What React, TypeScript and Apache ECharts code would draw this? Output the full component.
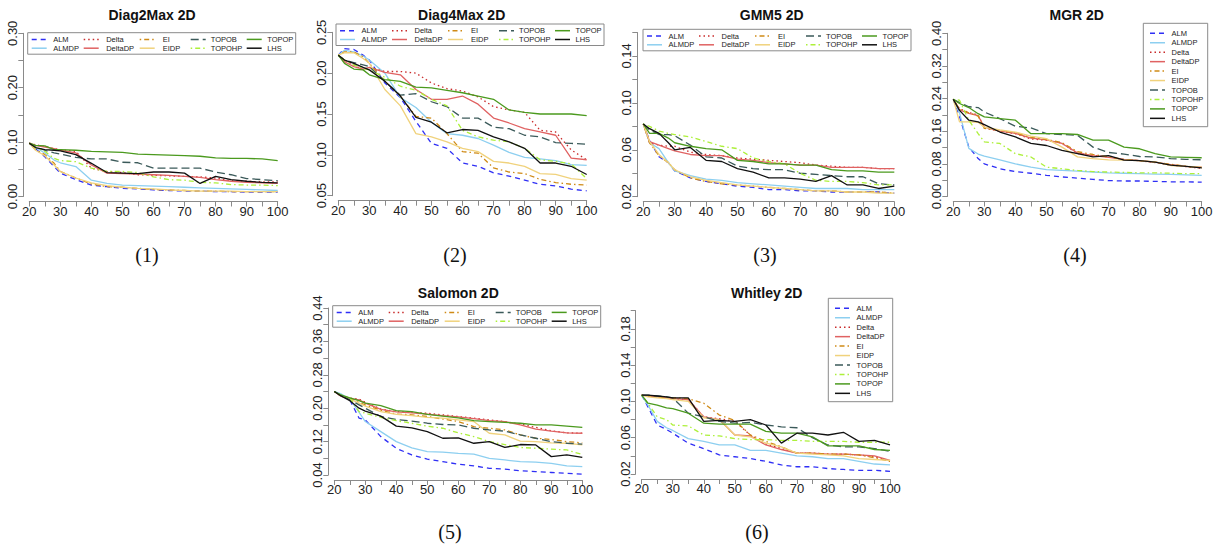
import { useEffect, useRef } from 'react';
import * as echarts from 'echarts';

// Methods compared in every panel (legend order, column-major in the wide legends)
const seriesNames = ['ALM', 'ALMDP', 'Delta', 'DeltaDP', 'EI', 'EIDP', 'TOPOB', 'TOPOHP', 'TOPOP', 'LHS'];

// Number of evaluations at which each curve is sampled
const evalCounts = [20, 22, 25, 28, 30, 35, 40, 45, 50, 55, 60, 65, 70, 75, 80, 85, 90, 95, 100];
const xTickLabels = [20, 30, 40, 50, 60, 70, 80, 90, 100];

// Diag2Max 2D — one row per method, in seriesNames order
const diag2maxValues = [
  [0.098, 0.088, 0.073, 0.055, 0.043, 0.031, 0.021, 0.018, 0.015, 0.014, 0.012, 0.011, 0.010, 0.010, 0.009, 0.009, 0.008, 0.008, 0.008],
  [0.098, 0.090, 0.080, 0.067, 0.062, 0.055, 0.030, 0.024, 0.021, 0.020, 0.019, 0.018, 0.017, 0.016, 0.015, 0.014, 0.013, 0.012, 0.011],
  [0.098, 0.095, 0.092, 0.088, 0.086, 0.083, 0.052, 0.046, 0.044, 0.040, 0.039, 0.038, 0.037, 0.036, 0.034, 0.029, 0.028, 0.027, 0.027],
  [0.098, 0.094, 0.091, 0.088, 0.085, 0.080, 0.058, 0.043, 0.042, 0.041, 0.040, 0.039, 0.037, 0.035, 0.031, 0.028, 0.026, 0.025, 0.024],
  [0.098, 0.086, 0.077, 0.061, 0.046, 0.034, 0.023, 0.018, 0.017, 0.015, 0.013, 0.012, 0.011, 0.010, 0.010, 0.009, 0.009, 0.009, 0.009],
  [0.098, 0.085, 0.075, 0.058, 0.046, 0.034, 0.025, 0.020, 0.017, 0.015, 0.014, 0.012, 0.011, 0.010, 0.010, 0.010, 0.009, 0.009, 0.009],
  [0.098, 0.091, 0.085, 0.080, 0.078, 0.072, 0.069, 0.069, 0.063, 0.062, 0.052, 0.052, 0.052, 0.052, 0.045, 0.040, 0.033, 0.031, 0.029],
  [0.098, 0.090, 0.083, 0.070, 0.066, 0.064, 0.052, 0.046, 0.046, 0.044, 0.036, 0.031, 0.030, 0.026, 0.025, 0.022, 0.021, 0.021, 0.020],
  [0.098, 0.094, 0.093, 0.086, 0.086, 0.085, 0.083, 0.082, 0.081, 0.078, 0.077, 0.076, 0.075, 0.074, 0.071, 0.070, 0.070, 0.069, 0.066],
  [0.098, 0.090, 0.086, 0.085, 0.084, 0.077, 0.061, 0.044, 0.043, 0.042, 0.045, 0.045, 0.043, 0.024, 0.037, 0.031, 0.028, 0.026, 0.025],
];

// Diag4Max 2D
const diag4maxValues = [
  [0.222, 0.230, 0.229, 0.222, 0.216, 0.188, 0.170, 0.141, 0.114, 0.108, 0.090, 0.086, 0.078, 0.074, 0.069, 0.064, 0.062, 0.058, 0.056],
  [0.222, 0.228, 0.226, 0.221, 0.216, 0.200, 0.170, 0.158, 0.140, 0.126, 0.124, 0.120, 0.112, 0.103, 0.097, 0.095, 0.093, 0.088, 0.087],
  [0.222, 0.216, 0.210, 0.204, 0.207, 0.202, 0.202, 0.200, 0.188, 0.181, 0.178, 0.171, 0.159, 0.155, 0.152, 0.130, 0.128, 0.106, 0.094],
  [0.222, 0.214, 0.208, 0.205, 0.207, 0.201, 0.198, 0.180, 0.168, 0.168, 0.172, 0.162, 0.145, 0.139, 0.132, 0.128, 0.124, 0.096, 0.094],
  [0.222, 0.226, 0.226, 0.220, 0.212, 0.190, 0.172, 0.147, 0.145, 0.126, 0.104, 0.102, 0.084, 0.079, 0.077, 0.070, 0.066, 0.064, 0.063],
  [0.222, 0.225, 0.225, 0.218, 0.212, 0.180, 0.160, 0.126, 0.122, 0.116, 0.108, 0.104, 0.092, 0.090, 0.086, 0.077, 0.076, 0.071, 0.069],
  [0.222, 0.216, 0.213, 0.210, 0.208, 0.190, 0.173, 0.175, 0.165, 0.159, 0.145, 0.145, 0.134, 0.132, 0.124, 0.122, 0.115, 0.114, 0.113],
  [0.222, 0.216, 0.210, 0.206, 0.204, 0.195, 0.184, 0.179, 0.168, 0.160, 0.130, 0.122, 0.118, 0.116, 0.108, 0.094, 0.092, 0.089, 0.071],
  [0.222, 0.212, 0.205, 0.204, 0.198, 0.192, 0.190, 0.183, 0.182, 0.179, 0.176, 0.172, 0.168, 0.155, 0.152, 0.150, 0.150, 0.150, 0.148],
  [0.222, 0.216, 0.212, 0.207, 0.204, 0.190, 0.172, 0.146, 0.140, 0.127, 0.131, 0.130, 0.122, 0.116, 0.108, 0.090, 0.090, 0.086, 0.076],
];

// GMM5 2D
const gmm5Values = [
  [0.082, 0.068, 0.054, 0.049, 0.042, 0.036, 0.033, 0.031, 0.029, 0.028, 0.026, 0.026, 0.025, 0.025, 0.024, 0.024, 0.024, 0.024, 0.023],
  [0.082, 0.066, 0.061, 0.049, 0.042, 0.038, 0.035, 0.034, 0.032, 0.031, 0.030, 0.029, 0.028, 0.027, 0.027, 0.027, 0.026, 0.026, 0.026],
  [0.082, 0.066, 0.064, 0.063, 0.063, 0.058, 0.056, 0.055, 0.053, 0.052, 0.051, 0.050, 0.049, 0.047, 0.046, 0.045, 0.045, 0.044, 0.044],
  [0.082, 0.067, 0.064, 0.061, 0.059, 0.056, 0.055, 0.055, 0.052, 0.051, 0.049, 0.048, 0.047, 0.047, 0.045, 0.045, 0.045, 0.044, 0.044],
  [0.082, 0.066, 0.055, 0.049, 0.043, 0.036, 0.033, 0.031, 0.030, 0.029, 0.028, 0.027, 0.026, 0.025, 0.025, 0.024, 0.024, 0.024, 0.023],
  [0.082, 0.067, 0.056, 0.049, 0.043, 0.037, 0.034, 0.032, 0.030, 0.029, 0.028, 0.027, 0.026, 0.025, 0.025, 0.024, 0.024, 0.023, 0.023],
  [0.082, 0.077, 0.073, 0.073, 0.072, 0.064, 0.054, 0.053, 0.046, 0.044, 0.043, 0.043, 0.040, 0.039, 0.038, 0.037, 0.037, 0.031, 0.030],
  [0.082, 0.080, 0.076, 0.074, 0.073, 0.071, 0.067, 0.063, 0.061, 0.053, 0.050, 0.048, 0.040, 0.034, 0.033, 0.033, 0.032, 0.030, 0.030],
  [0.082, 0.074, 0.074, 0.070, 0.066, 0.063, 0.061, 0.060, 0.051, 0.050, 0.048, 0.048, 0.047, 0.047, 0.043, 0.042, 0.042, 0.041, 0.041],
  [0.082, 0.078, 0.074, 0.066, 0.060, 0.062, 0.051, 0.050, 0.044, 0.041, 0.036, 0.036, 0.035, 0.033, 0.038, 0.030, 0.030, 0.027, 0.029],
];

// MGR 2D
const mgrValues = [
  [0.238, 0.196, 0.121, 0.093, 0.080, 0.068, 0.061, 0.057, 0.052, 0.048, 0.045, 0.042, 0.039, 0.038, 0.038, 0.037, 0.036, 0.036, 0.035],
  [0.238, 0.205, 0.118, 0.104, 0.099, 0.090, 0.080, 0.072, 0.066, 0.064, 0.062, 0.060, 0.058, 0.057, 0.056, 0.055, 0.054, 0.053, 0.052],
  [0.238, 0.215, 0.206, 0.200, 0.168, 0.160, 0.154, 0.141, 0.138, 0.131, 0.105, 0.101, 0.097, 0.090, 0.088, 0.083, 0.077, 0.073, 0.069],
  [0.238, 0.212, 0.204, 0.198, 0.170, 0.160, 0.155, 0.143, 0.139, 0.130, 0.107, 0.100, 0.096, 0.091, 0.088, 0.084, 0.078, 0.074, 0.072],
  [0.238, 0.214, 0.205, 0.197, 0.167, 0.162, 0.156, 0.145, 0.140, 0.132, 0.110, 0.103, 0.097, 0.091, 0.088, 0.084, 0.079, 0.074, 0.070],
  [0.238, 0.183, 0.183, 0.182, 0.170, 0.163, 0.158, 0.148, 0.142, 0.121, 0.097, 0.093, 0.090, 0.089, 0.088, 0.085, 0.076, 0.074, 0.072],
  [0.238, 0.230, 0.220, 0.218, 0.207, 0.191, 0.172, 0.168, 0.154, 0.152, 0.150, 0.121, 0.108, 0.104, 0.098, 0.097, 0.093, 0.091, 0.090],
  [0.238, 0.236, 0.187, 0.154, 0.134, 0.130, 0.105, 0.097, 0.072, 0.068, 0.064, 0.061, 0.060, 0.059, 0.058, 0.058, 0.057, 0.056, 0.056],
  [0.238, 0.228, 0.218, 0.203, 0.195, 0.191, 0.187, 0.154, 0.154, 0.154, 0.152, 0.138, 0.138, 0.121, 0.117, 0.105, 0.097, 0.096, 0.095],
  [0.238, 0.211, 0.187, 0.183, 0.176, 0.158, 0.146, 0.130, 0.125, 0.113, 0.105, 0.097, 0.100, 0.089, 0.088, 0.084, 0.077, 0.074, 0.070],
];

// Salomon 2D
const salomonValues = [
  [0.240, 0.232, 0.220, 0.176, 0.172, 0.132, 0.104, 0.088, 0.078, 0.072, 0.066, 0.062, 0.056, 0.054, 0.050, 0.048, 0.046, 0.044, 0.042],
  [0.240, 0.235, 0.222, 0.190, 0.168, 0.144, 0.120, 0.105, 0.096, 0.095, 0.092, 0.090, 0.080, 0.076, 0.072, 0.071, 0.068, 0.062, 0.060],
  [0.240, 0.230, 0.224, 0.222, 0.214, 0.198, 0.192, 0.190, 0.188, 0.184, 0.180, 0.176, 0.172, 0.168, 0.162, 0.154, 0.146, 0.141, 0.140],
  [0.240, 0.229, 0.223, 0.220, 0.212, 0.197, 0.191, 0.189, 0.186, 0.182, 0.179, 0.175, 0.170, 0.168, 0.160, 0.150, 0.145, 0.141, 0.140],
  [0.240, 0.231, 0.222, 0.214, 0.208, 0.195, 0.186, 0.184, 0.180, 0.174, 0.168, 0.156, 0.152, 0.148, 0.136, 0.128, 0.125, 0.120, 0.117],
  [0.240, 0.230, 0.222, 0.212, 0.205, 0.192, 0.185, 0.182, 0.178, 0.176, 0.172, 0.168, 0.140, 0.136, 0.121, 0.120, 0.117, 0.116, 0.112],
  [0.240, 0.232, 0.220, 0.208, 0.200, 0.180, 0.173, 0.169, 0.164, 0.161, 0.160, 0.152, 0.148, 0.145, 0.136, 0.128, 0.120, 0.116, 0.114],
  [0.240, 0.232, 0.225, 0.192, 0.188, 0.178, 0.170, 0.164, 0.157, 0.152, 0.141, 0.132, 0.120, 0.113, 0.106, 0.104, 0.102, 0.100, 0.089],
  [0.240, 0.232, 0.225, 0.218, 0.212, 0.206, 0.194, 0.192, 0.185, 0.181, 0.177, 0.170, 0.168, 0.166, 0.164, 0.160, 0.160, 0.157, 0.154],
  [0.240, 0.230, 0.218, 0.200, 0.193, 0.181, 0.157, 0.153, 0.144, 0.128, 0.129, 0.116, 0.120, 0.106, 0.113, 0.112, 0.084, 0.088, 0.082],
];

// Whitley 2D
const whitleyValues = [
  [0.107, 0.094, 0.074, 0.069, 0.065, 0.054, 0.048, 0.041, 0.039, 0.037, 0.034, 0.030, 0.028, 0.028, 0.026, 0.025, 0.024, 0.024, 0.023],
  [0.107, 0.096, 0.078, 0.071, 0.068, 0.059, 0.056, 0.052, 0.052, 0.046, 0.046, 0.043, 0.040, 0.039, 0.037, 0.037, 0.034, 0.031, 0.030],
  [0.107, 0.106, 0.105, 0.104, 0.103, 0.102, 0.083, 0.081, 0.078, 0.063, 0.053, 0.048, 0.043, 0.043, 0.042, 0.042, 0.041, 0.039, 0.034],
  [0.107, 0.106, 0.105, 0.104, 0.103, 0.102, 0.083, 0.080, 0.063, 0.062, 0.052, 0.047, 0.043, 0.043, 0.042, 0.042, 0.041, 0.040, 0.035],
  [0.107, 0.106, 0.105, 0.104, 0.104, 0.103, 0.098, 0.085, 0.079, 0.063, 0.056, 0.050, 0.043, 0.043, 0.042, 0.042, 0.041, 0.038, 0.034],
  [0.107, 0.105, 0.104, 0.103, 0.102, 0.100, 0.082, 0.080, 0.063, 0.061, 0.054, 0.050, 0.043, 0.042, 0.041, 0.040, 0.037, 0.036, 0.035],
  [0.107, 0.107, 0.106, 0.105, 0.104, 0.087, 0.083, 0.078, 0.076, 0.077, 0.074, 0.072, 0.071, 0.060, 0.052, 0.050, 0.050, 0.048, 0.045],
  [0.107, 0.098, 0.083, 0.080, 0.074, 0.073, 0.063, 0.062, 0.059, 0.058, 0.058, 0.057, 0.057, 0.056, 0.056, 0.056, 0.055, 0.055, 0.055],
  [0.107, 0.098, 0.096, 0.093, 0.092, 0.087, 0.076, 0.075, 0.075, 0.075, 0.067, 0.065, 0.065, 0.061, 0.051, 0.051, 0.051, 0.047, 0.046],
  [0.107, 0.107, 0.106, 0.105, 0.104, 0.104, 0.078, 0.079, 0.078, 0.080, 0.074, 0.054, 0.065, 0.065, 0.063, 0.066, 0.056, 0.057, 0.052],
];

// Labelled y ticks of each panel (other ticks are drawn without a label)
const diag2maxYLabels = [0, 0.1, 0.2, 0.3];
const diag4maxYLabels = [0.05, 0.1, 0.15, 0.2, 0.25];
const gmm5YLabels = [0.02, 0.06, 0.1, 0.14];
const mgrYLabels = [0, 0.08, 0.16, 0.24, 0.32, 0.4];
const salomonYLabels = [0.04, 0.12, 0.2, 0.28, 0.36, 0.44];
const whitleyYLabels = [0.02, 0.06, 0.1, 0.14, 0.18];

// Line look of each method
const lineStyles: { color: string; dash: number[] | null }[] = [
  { color: '#2f2ff5', dash: [5, 4] },
  { color: '#8dcff0', dash: null },
  { color: '#c92b2b', dash: [1.5, 3] },
  { color: '#e06262', dash: null },
  { color: '#cf8a16', dash: [1.5, 3, 5, 3] },
  { color: '#f0d27c', dash: null },
  { color: '#3b5a5a', dash: [8, 4] },
  { color: '#adf03a', dash: [1.5, 3, 5, 3] },
  { color: '#4b9a1e', dash: null },
  { color: '#111111', dash: null },
];

const SANS = '"Liberation Sans", Arial, Helvetica, sans-serif';
const SERIF = '"Liberation Serif", "Times New Roman", serif';
const LINE_W = 1.3;

type Panel = {
  title: string;
  caption: string;
  values: number[][];
  yMin: number;
  yMax: number;
  yStep: number;
  yLabels: number[];
  // plot frame in pixels: x of 20 / x of 100, y of yMax / y of yMin
  left: number;
  right: number;
  top: number;
  bottom: number;
  titleX: number;
  titleY: number;
  capX: number;
  capY: number;
  legend: { x: number; y: number; vertical: boolean };
};

const panels: Panel[] = [
  {
    title: 'Diag2Max 2D', caption: '(1)', values: diag2maxValues,
    yMin: 0, yMax: 0.3, yStep: 0.05, yLabels: diag2maxYLabels,
    left: 29.3, right: 277.7, top: 33.3, bottom: 196.5,
    titleX: 152, titleY: 15, capX: 147, capY: 255,
    legend: { x: 27.7, y: 32.7, vertical: false },
  },
  {
    title: 'Diag4Max 2D', caption: '(2)', values: diag4maxValues,
    yMin: 0.05, yMax: 0.25, yStep: 0.05, yLabels: diag4maxYLabels,
    left: 338.3, right: 586.7, top: 32.3, bottom: 195.7,
    titleX: 461.7, titleY: 15, capX: 455, capY: 255,
    legend: { x: 336, y: 24, vertical: false },
  },
  {
    title: 'GMM5 2D', caption: '(3)', values: gmm5Values,
    yMin: 0.02, yMax: 0.16, yStep: 0.02, yLabels: gmm5YLabels,
    left: 643.3, right: 894.3, top: 32.5, bottom: 196.7,
    titleX: 771.7, titleY: 15, capX: 765, capY: 255,
    legend: { x: 643, y: 29.3, vertical: false },
  },
  {
    title: 'MGR 2D', caption: '(4)', values: mgrValues,
    yMin: 0, yMax: 0.4, yStep: 0.04, yLabels: mgrYLabels,
    left: 953.3, right: 1201.7, top: 33.3, bottom: 196.5,
    titleX: 1076.7, titleY: 15, capX: 1075, capY: 255,
    legend: { x: 1143.3, y: 23.3, vertical: true },
  },
  {
    title: 'Salomon 2D', caption: '(5)', values: salomonValues,
    yMin: 0.04, yMax: 0.44, yStep: 0.04, yLabels: salomonYLabels,
    left: 334.3, right: 582.3, top: 308, bottom: 475,
    titleX: 458.3, titleY: 293.3, capX: 450, capY: 532,
    legend: { x: 332.7, y: 305.7, vertical: false },
  },
  {
    title: 'Whitley 2D', caption: '(6)', values: whitleyValues,
    yMin: 0.02, yMax: 0.2, yStep: 0.02, yLabels: whitleyYLabels,
    left: 641.7, right: 890, top: 310.7, bottom: 474,
    titleX: 766.7, titleY: 293.3, capX: 757, capY: 532,
    legend: { x: 828.3, y: 298.3, vertical: true },
  },
];

// Wide legend: two rows, five columns (column-major)
const WIDE_W = 268;
const WIDE_H = 21.5;
const WIDE_ROWS = [6.7, 15.5];
const WIDE_SAMPLE_X = [4, 56, 112, 163, 219];
const WIDE_TEXT_X = [25.5, 78.5, 135, 183, 239.5];
// Tall legend: one column
const TALL_W = 64.4;
const TALL_H = 103.4;
const TALL_ROW0 = 10;
const TALL_ROW_STEP = 9.45;
const TALL_SAMPLE_X = 6.7;
const TALL_TEXT_X = 28.3;
const SAMPLE_LEN = 15;

function legendGraphics(p: Panel): any[] {
  const { x, y, vertical } = p.legend;
  const items: any[] = [
    {
      type: 'rect',
      shape: { x, y, width: vertical ? TALL_W : WIDE_W, height: vertical ? TALL_H : WIDE_H },
      style: { fill: 'transparent', stroke: '#8a8a8a', lineWidth: 1 },
      silent: true,
    },
  ];
  seriesNames.forEach((name, i) => {
    let sx: number, tx: number, cy: number;
    if (vertical) {
      sx = x + TALL_SAMPLE_X;
      tx = x + TALL_TEXT_X;
      cy = y + TALL_ROW0 + i * TALL_ROW_STEP;
    } else {
      const col = Math.floor(i / 2);
      const row = i % 2;
      sx = x + WIDE_SAMPLE_X[col];
      tx = x + WIDE_TEXT_X[col];
      cy = y + WIDE_ROWS[row];
    }
    const st = lineStyles[i];
    items.push({
      type: 'line',
      shape: { x1: sx, y1: cy, x2: sx + SAMPLE_LEN, y2: cy },
      style: { stroke: st.color, lineWidth: LINE_W + 0.2, lineDash: st.dash ?? undefined },
      silent: true,
    });
    items.push({
      type: 'text',
      x: tx,
      y: cy,
      style: {
        text: name,
        fill: '#222',
        font: `7.5px ${SANS}`,
        textAlign: 'left',
        textVerticalAlign: 'middle',
        verticalAlign: 'middle',
      },
      silent: true,
    });
  });
  return items;
}

const hasLabel = (list: number[], v: number) => list.some((t) => Math.abs(t - v) < 1e-6);

export default function App() {
  const ref = useRef<HTMLDivElement>(null);

  useEffect(() => {
    if (!ref.current) return;
    const chart = echarts.init(ref.current, undefined, { renderer: 'svg' });

    const grid: any[] = [];
    const xAxis: any[] = [];
    const yAxis: any[] = [];
    const series: any[] = [];
    const graphic: any[] = [];

    panels.forEach((p, pi) => {
      grid.push({
        left: p.left,
        top: p.top,
        width: p.right - p.left,
        height: p.bottom - p.top,
        containLabel: false,
        outerBoundsMode: 'none',
      });
      xAxis.push({
        type: 'value',
        gridIndex: pi,
        min: 20,
        max: 100,
        interval: 5,
        offset: 5,
        axisLine: { show: true, onZero: false, lineStyle: { color: '#8a8a8a', width: 1 } },
        axisTick: { show: true, length: 5, lineStyle: { color: '#8a8a8a' } },
        axisLabel: {
          show: true,
          fontSize: 13,
          fontFamily: SANS,
          color: '#222',
          margin: 3,
          formatter: (v: number) => (hasLabel(xTickLabels, v) ? String(Math.round(v)) : ''),
        },
        splitLine: { show: false },
      });
      yAxis.push({
        type: 'value',
        gridIndex: pi,
        min: p.yMin,
        max: p.yMax,
        interval: p.yStep,
        offset: 6,
        axisLine: { show: true, onZero: false, lineStyle: { color: '#8a8a8a', width: 1 } },
        axisTick: { show: true, length: 5, lineStyle: { color: '#8a8a8a' } },
        axisLabel: {
          show: true,
          rotate: 90,
          fontSize: 13,
          fontFamily: SANS,
          color: '#222',
          margin: 4,
          formatter: (v: number) => (hasLabel(p.yLabels, v) ? v.toFixed(2) : ''),
        },
        splitLine: { show: false },
      });
      seriesNames.forEach((name, si) => {
        const st = lineStyles[si];
        series.push({
          type: 'line',
          name,
          xAxisIndex: pi,
          yAxisIndex: pi,
          data: evalCounts.map((x, k) => [x, p.values[si][k]]),
          showSymbol: false,
          symbol: 'none',
          lineStyle: { color: st.color, width: LINE_W, type: st.dash ?? 'solid' },
          itemStyle: { color: st.color },
          z: 2 + si * 0.01,
        });
      });
      graphic.push({
        type: 'text',
        x: p.titleX,
        y: p.titleY,
        style: {
          text: p.title,
          fill: '#111',
          font: `bold 14px ${SANS}`,
          textAlign: 'center',
          textVerticalAlign: 'middle',
          verticalAlign: 'middle',
        },
        silent: true,
      });
      graphic.push({
        type: 'text',
        x: p.capX,
        y: p.capY,
        style: {
          text: p.caption,
          fill: '#111',
          font: `20px ${SERIF}`,
          textAlign: 'center',
          textVerticalAlign: 'middle',
          verticalAlign: 'middle',
        },
        silent: true,
      });
      graphic.push(...legendGraphics(p));
    });

    chart.setOption({
      animation: false,
      backgroundColor: '#ffffff',
      grid,
      xAxis,
      yAxis,
      series,
      graphic,
    });

    return () => chart.dispose();
  }, []);

  return (
    <div
      ref={ref}
      style={{ position: 'fixed', left: 0, top: 0, width: 1225, height: 546, background: '#fff' }}
    />
  );
}
